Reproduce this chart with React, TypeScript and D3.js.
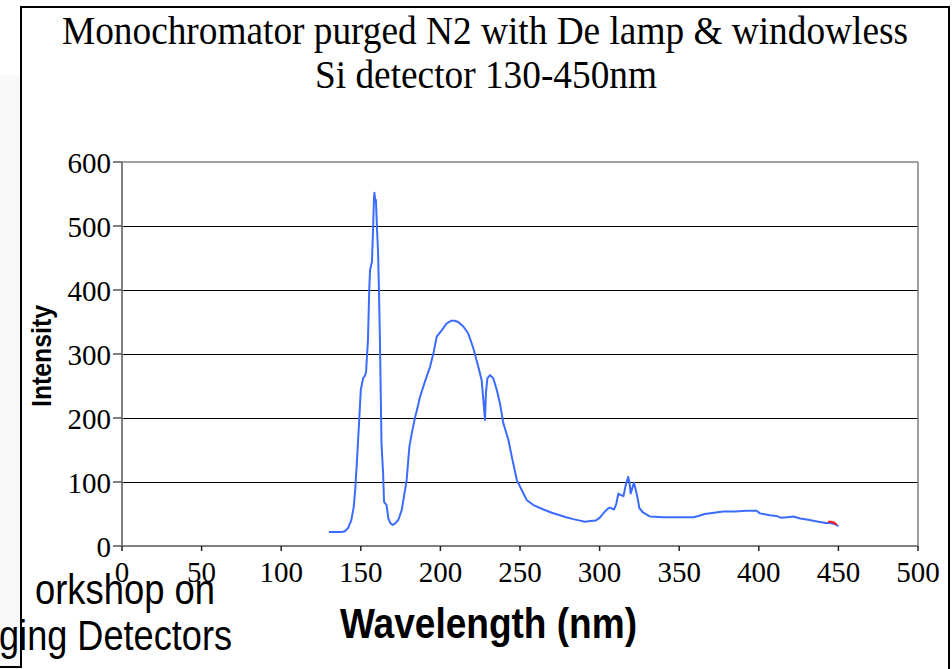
import React from "react";
import * as d3 from "d3";

// Spectrum: wavelength (nm) and detector intensity
const wavelengths = [
  130, 132, 135, 138, 140, 142, 144, 145.5, 146.5, 147.6, 149, 150, 151.4, 152.6, 153.3, 154.5, 155.3, 155.8,
  157, 157.7, 158.3, 158.6, 159, 159.5, 160.2, 160.8, 161.4, 162, 163, 164, 164.6, 166.2, 167.3, 168.5, 170,
  171.5, 173.6, 175.7, 177.8, 178.8, 180.5, 182, 184, 185.5, 187.2, 190.3, 193.5, 195.6, 197.7, 200.8, 204,
  207, 209, 211.2, 214.4, 217.5, 220.7, 223.8, 225.9, 227, 228, 228.6, 229.5, 231.2, 233.2, 235.4, 237.4,
  239.5, 242.7, 244.8, 248, 251, 254.2, 258.4, 264.7, 270, 275, 279, 283.5, 287, 290.8, 294, 297.7, 300,
  303.4, 305, 306.5, 309, 310.5, 311.8, 313, 315, 316.4, 318, 319, 319.5, 320.5, 321.6, 322.5, 323.7, 325,
  327.5, 331.7, 340, 350, 359, 362, 366, 372, 377.7, 385, 392, 398.6, 400.7, 407, 411, 414, 418, 421.7, 426,
  431, 435, 438.4, 442, 445, 448, 450,
];
const intensities = [
  22, 22, 22, 22, 23, 28, 40, 60, 88, 134, 197, 244, 262, 266, 272, 322, 400, 431,
  444, 494, 545, 552, 540, 541, 494, 462, 400, 325, 160, 114, 69, 64, 43, 36, 33,
  35, 41, 56, 88, 103, 155, 176, 200, 215, 233, 257, 280, 301, 327, 337, 348,
  352, 352, 350, 343, 332, 309, 280, 259, 228, 197, 239, 262, 267, 262, 244, 223,
  192, 166, 140, 103, 88, 72, 64, 57, 52, 48, 45, 42, 40, 38, 39, 40, 44,
  54, 58, 60, 57, 66, 82, 80, 78, 95, 108, 95, 82, 90, 99, 90, 77, 59,
  52, 46, 45, 45, 45, 47, 50, 52, 54, 54, 55, 55, 51, 48, 47, 44, 45, 46, 43,
  41, 39, 37.5, 36, 36, 34, 31,
];

// Short second trace near the end of the scan
const tailWavelengths = [443.5, 445.5, 447.5, 449];
const tailIntensities = [38, 38, 36, 33];

const xTicks = [0, 50, 100, 150, 200, 250, 300, 350, 400, 450, 500];
const yTicks = [0, 100, 200, 300, 400, 500, 600];

const titleLines = ["Monochromator purged N2 with De lamp & windowless", "Si detector 130-450nm"];

export default function App() {
  const x = d3.scaleLinear().domain([0, 500]).range([122, 918]);
  const y = d3.scaleLinear().domain([0, 600]).range([546, 162]);

  const line = d3
    .line<[number, number]>()
    .x((d) => x(d[0]))
    .y((d) => y(d[1]));

  const main: [number, number][] = wavelengths.map((w, i) => [w, intensities[i]]);
  const tail: [number, number][] = tailWavelengths.map((w, i) => [w, tailIntensities[i]]);

  const serif = "'Liberation Serif', 'Times New Roman', serif";
  const sans = "'Liberation Sans', Arial, sans-serif";

  return (
    <svg
      width={952}
      height={669}
      style={{ position: "absolute", left: 0, top: 0, background: "#fff" }}
    >
      <rect x={0} y={0} width={952} height={669} fill="#fff" />
      <rect x={0} y={75} width={20} height={594} fill="#f9f9f9" />

      {/* frame */}
      <line x1={21} y1={7} x2={949} y2={7} stroke="#000" strokeWidth={2} />
      <line x1={21} y1={6} x2={21} y2={667} stroke="#000" strokeWidth={2} />
      <line x1={949} y1={6} x2={949} y2={669} stroke="#000" strokeWidth={2} />
      <line x1={0} y1={667} x2={22} y2={667} stroke="#000" strokeWidth={2} />

      {/* title */}
      <text x={485} y={44} textAnchor="middle" fontFamily={serif} fontSize={40}
        textLength={846} lengthAdjust="spacingAndGlyphs">{titleLines[0]}</text>
      <text x={486} y={88} textAnchor="middle" fontFamily={serif} fontSize={40}
        textLength={342} lengthAdjust="spacingAndGlyphs">{titleLines[1]}</text>

      {/* gridlines */}
      {yTicks.filter((t) => t > 0 && t < 600).map((t) => (
        <line key={"g" + t} x1={x(0)} x2={x(500)} y1={Math.round(y(t)) + 0.5} y2={Math.round(y(t)) + 0.5}
          stroke="#000" strokeWidth={1.5} shapeRendering="crispEdges" />
      ))}
      {/* plot area border */}
      <line x1={x(0)} x2={x(500)} y1={y(600)} y2={y(600)} stroke="#808080" strokeWidth={1.5} />
      <line x1={x(500)} x2={x(500)} y1={y(600)} y2={y(0)} stroke="#808080" strokeWidth={1.5} />

      {/* axes */}
      <line x1={x(0)} x2={x(0)} y1={y(600)} y2={y(0)} stroke="#808080" strokeWidth={2} />
      <line x1={x(0)} x2={x(500)} y1={y(0)} y2={y(0)} stroke="#808080" strokeWidth={2} />
      {yTicks.map((t) => (
        <g key={"y" + t}>
          <line x1={x(0) - 9} x2={x(0)} y1={y(t)} y2={y(t)} stroke="#555" strokeWidth={1.5} />
          <text x={111} y={y(t) + 11} textAnchor="end" fontFamily={serif} fontSize={29}>{t}</text>
        </g>
      ))}
      {xTicks.map((t) => (
        <g key={"x" + t}>
          <line x1={x(t)} x2={x(t)} y1={y(0)} y2={y(0) + 5} stroke="#222" strokeWidth={1.5} />
          <text x={x(t)} y={582} textAnchor="middle" fontFamily={serif} fontSize={29}>{t}</text>
        </g>
      ))}

      {/* axis titles */}
      <text transform="translate(51,356) rotate(-90)" textAnchor="middle" fontFamily={sans}
        fontWeight="bold" fontSize={28} textLength={102} lengthAdjust="spacingAndGlyphs">Intensity</text>
      <text x={340} y={638} fontFamily={sans} fontWeight="bold" fontSize={43}
        textLength={297} lengthAdjust="spacingAndGlyphs">Wavelength (nm)</text>

      {/* spectrum */}
      <path d={line(main) ?? ""} fill="none" stroke="#3b6cff" strokeWidth={2} strokeLinejoin="round" />
      <path d={line(tail) ?? ""} fill="none" stroke="#ff1a1a" strokeWidth={2} />

      {/* slide text */}
      <text x={35} y={604} fontFamily={sans} fontSize={42} textLength={180}
        lengthAdjust="spacingAndGlyphs">orkshop on</text>
      <text x={-1} y={650} fontFamily={sans} fontSize={42} textLength={233}
        lengthAdjust="spacingAndGlyphs">ging Detectors</text>
    </svg>
  );
}
